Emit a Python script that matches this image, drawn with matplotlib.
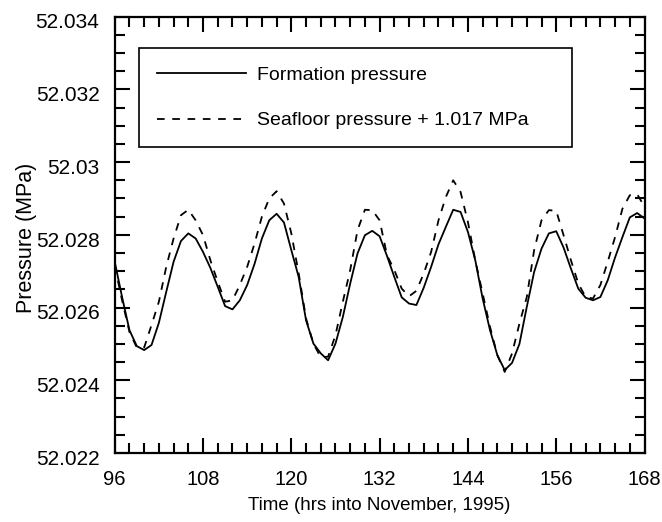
import numpy as np
import matplotlib
matplotlib.use("Agg")
import matplotlib.pyplot as plt
from matplotlib.ticker import MultipleLocator, FuncFormatter
from matplotlib.transforms import ScaledTranslation

plt.rcParams['font.family'] = ['Liberation Sans', 'DejaVu Sans']
plt.rcParams['lines.scale_dashes'] = False

# hourly samples, hours into November 1995
hours = np.arange(96, 169)

formation = [
    52.02726, 52.02629, 52.02538, 52.02494, 52.02483, 52.02497, 52.02558, 52.02643,
    52.02726, 52.02783, 52.02804, 52.02790, 52.02753, 52.02709, 52.02657, 52.02604,
    52.02595, 52.02620, 52.02662, 52.02720, 52.02790, 52.02840, 52.02858, 52.02834,
    52.02758, 52.02684, 52.02565, 52.02501, 52.02474, 52.02455, 52.02501, 52.02574,
    52.02666, 52.02749, 52.02799, 52.02811, 52.02796, 52.02742, 52.02684, 52.02628,
    52.02611, 52.02607, 52.02655, 52.02712, 52.02774, 52.02822, 52.02869, 52.02863,
    52.02808, 52.02730, 52.02625, 52.02538, 52.02469, 52.02428, 52.02448, 52.02500,
    52.02602, 52.02698, 52.02762, 52.02804, 52.02810, 52.02765, 52.02707, 52.02652,
    52.02627, 52.02620, 52.02629, 52.02675, 52.02738, 52.02794, 52.02848, 52.02860,
    52.02845,
]

seafloor = [
    52.02715, 52.02620, 52.02533, 52.02490, 52.02490, 52.02552, 52.02616, 52.02712,
    52.02790, 52.02854, 52.02869, 52.02840, 52.02799, 52.02730, 52.02671, 52.02616,
    52.02620, 52.02662, 52.02712, 52.02776, 52.02850, 52.02900, 52.02920, 52.02886,
    52.02804, 52.02694, 52.02570, 52.02501, 52.02463, 52.02465, 52.02524, 52.02616,
    52.02703, 52.02813, 52.02869, 52.02868, 52.02840, 52.02744, 52.02703, 52.02652,
    52.02631, 52.02646, 52.02694, 52.02753, 52.02840, 52.02904, 52.02950, 52.02918,
    52.02835, 52.02730, 52.02639, 52.02547, 52.02469, 52.02423, 52.02474, 52.02556,
    52.02629, 52.02758, 52.02840, 52.02868, 52.02866, 52.02799, 52.02730, 52.02666,
    52.02629, 52.02625, 52.02662, 52.02726, 52.02794, 52.02872, 52.02909, 52.02912,
    52.02877,
]

fig = plt.figure(figsize=(6.62, 5.22), dpi=100)
ax = fig.add_axes([0.1733, 0.1322, 0.8003, 0.8358])

ax.plot(hours, formation, '-', color='black', lw=1.3, label='Formation pressure')
ax.plot(hours, seafloor, color='black', lw=1.3, linestyle=(0, (5.5, 5.5)),
        label='Seafloor pressure + 1.017 MPa')

ax.set_xlim(96, 168)
ax.set_ylim(52.022, 52.034)
ax.xaxis.set_major_locator(MultipleLocator(12))
ax.xaxis.set_minor_locator(MultipleLocator(2))
ax.yaxis.set_major_locator(MultipleLocator(0.002))
ax.yaxis.set_minor_locator(MultipleLocator(0.0005))
ax.yaxis.set_major_formatter(FuncFormatter(lambda v, p: '%g' % round(v, 6)))

ax.tick_params(which='both', direction='in', top=True, right=True, width=1.5, colors='black')
ax.tick_params(which='major', length=11)
ax.tick_params(which='minor', length=7)
ax.tick_params(axis='x', which='major', labelsize=14.5, pad=12.5)
ax.tick_params(axis='y', which='major', labelsize=15, pad=11)
for s in ax.spines.values():
    s.set_linewidth(1.6)

# y tick labels sit a little below their ticks in the original
shift = ScaledTranslation(0, -3 / 72, fig.dpi_scale_trans)
for t in ax.yaxis.get_major_ticks():
    t.label1.set_transform(t.label1.get_transform() + shift)

ax.set_xlabel('Time (hrs into November, 1995)', fontsize=13.5)
ax.set_ylabel('Pressure (MPa)', fontsize=15.5)
ax.xaxis.set_label_coords(0.5, -0.10)
ax.yaxis.set_label_coords(-0.147, 0.494)

leg = ax.legend(loc='upper left', bbox_to_anchor=(0.046, 0.928, 0.817, 0.0), mode='expand',
                fontsize=14, handlelength=4.6, handletextpad=0.55, labelspacing=1.45,
                borderpad=0.92, borderaxespad=0, fancybox=False, edgecolor='black',
                framealpha=1)
leg.get_frame().set_linewidth(1.2)

fig.savefig('out.png', dpi=100)
